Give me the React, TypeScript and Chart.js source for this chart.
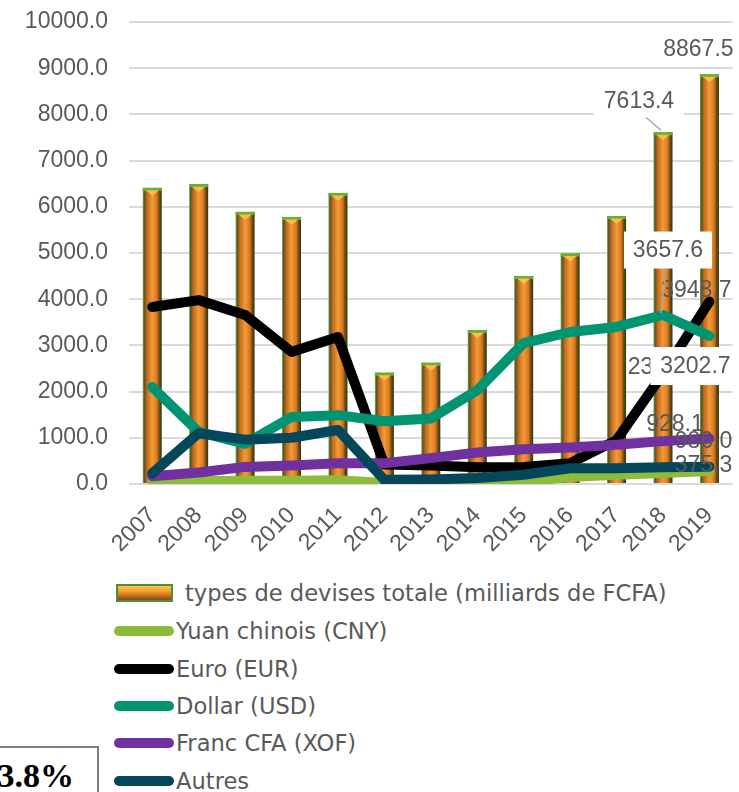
import React, { useEffect, useRef } from "react";
import { Chart, registerables } from "chart.js";

Chart.register(...registerables);

// ---------- data ----------
const years = ["2007", "2008", "2009", "2010", "2011", "2012", "2013", "2014", "2015", "2016", "2017", "2018", "2019"];
const totalValues = [6410, 6490, 5890, 5780, 6300, 2410, 2625, 3330, 4500, 4990, 5800, 7613.4, 8867.5];
const yuanValues = [60, 60, 70, 70, 80, 20, 10, 20, 60, 150, 200, 240, 280];
const euroValues = [3830, 3980, 3660, 2860, 3180, 420, 400, 360, 370, 450, 950, 2390, 3948.7];
const dollarValues = [2100, 1130, 870, 1450, 1490, 1360, 1420, 2030, 3050, 3290, 3400, 3657.6, 3202.7];
const francValues = [170, 250, 370, 400, 450, 450, 560, 680, 750, 790, 850, 928.1, 986.0];
const autresValues = [230, 1100, 960, 1000, 1170, 90, 100, 130, 200, 340, 340, 360, 375.3];

const seriesNames = [
  "types de devises totale (milliards de FCFA)",
  "Yuan chinois (CNY)",
  "Euro (EUR)",
  "Dollar (USD)",
  "Franc CFA (XOF)",
  "Autres",
];
const lineColors = ["#8dbb3c", "#000000", "#009473", "#7030a0", "#05475a"];

const yMin = 0;
const yMax = 10000;
const yStep = 1000;

const FONT = "'Liberation Sans', Arial, sans-serif";
const LEGEND_FONT = "'DejaVu Sans', sans-serif";
const TEXT = "#595959";

// label placement (styling only): dataset index, point index, offsets
const labelSpecs = [
  { ds: 0, i: 11, dx: -24, dy: -32, box: true, bw: 90, bh: 34, leader: true },
  { ds: 0, i: 12, dx: -11, dy: -26 },
  { ds: 2, i: 11, dx: 0, dy: -7 },
  { ds: 2, i: 12, dx: -13, dy: -12 },
  { ds: 3, i: 11, dx: 5, dy: -65, box: true, bw: 88, bh: 37, leader: true },
  { ds: 3, i: 12, dx: -14, dy: 30, box: true, bw: 90, bh: 38 },
  { ds: 4, i: 11, dx: 12, dy: -17 },
  { ds: 4, i: 12, dx: -6, dy: 2 },
  { ds: 5, i: 12, dx: -6, dy: -2 },
];

const barPlugin = {
  id: "bevelBars",
  afterDatasetDraw(chart: any, args: any) {
    if (args.index !== 0) return;
    const ctx = chart.ctx as CanvasRenderingContext2D;
    ctx.save();
    args.meta.data.forEach((el: any) => {
      const { x, y, base, width } = el;
      const l = x - width / 2;
      const r = x + width / 2;
      const g = ctx.createLinearGradient(l, 0, r, 0);
      g.addColorStop(0, "#8cad68");
      g.addColorStop(0.08, "#4a5a22");
      g.addColorStop(0.22, "#c4671c");
      g.addColorStop(0.5, "#f39b38");
      g.addColorStop(0.75, "#d9761f");
      g.addColorStop(0.88, "#6a4a12");
      g.addColorStop(1, "#2a3a14");
      ctx.fillStyle = g;
      ctx.fillRect(l, y, width, base - y);
      ctx.fillStyle = "#62b236";
      ctx.fillRect(l, y, width, 3);
      ctx.beginPath();
      ctx.moveTo(l + 3, y + 2.5);
      ctx.lineTo(r - 3, y + 2.5);
      ctx.lineTo(x, y + 8);
      ctx.closePath();
      ctx.fillStyle = "#f8bf48";
      ctx.fill();
    });
    ctx.restore();
  },
};

const labelPlugin = {
  id: "valueLabels",
  afterDraw(chart: any) {
    const ctx = chart.ctx as CanvasRenderingContext2D;
    ctx.save();
    ctx.font = `23px ${FONT}`;
    ctx.textAlign = "center";
    ctx.textBaseline = "middle";
    labelSpecs.forEach((s: any) => {
      const el = chart.getDatasetMeta(s.ds).data[s.i];
      const v = chart.data.datasets[s.ds].data[s.i] as number;
      const cx = el.x + s.dx;
      const cy = el.y + s.dy;
      if (s.box) {
        ctx.fillStyle = "#ffffff";
        ctx.fillRect(cx - s.bw / 2, cy - s.bh / 2, s.bw, s.bh);
      }
      if (s.leader) {
        ctx.strokeStyle = "#a6a6a6";
        ctx.lineWidth = 1.5;
        ctx.beginPath();
        ctx.moveTo(cx + (s.ds === 0 ? 7 : -2), cy + s.bh / 2);
        ctx.lineTo(el.x - 2, el.y - 2);
        ctx.stroke();
      }
      ctx.fillStyle = TEXT;
      ctx.fillText(v.toFixed(1), cx, cy + 1);
    });
    ctx.restore();
  },
};

export default function App() {
  const canvasRef = useRef<HTMLCanvasElement | null>(null);

  useEffect(() => {
    document.body.style.margin = "0";
    const canvas = canvasRef.current;
    if (!canvas) return;
    const lineSets = [yuanValues, euroValues, dollarValues, francValues, autresValues].map((d, k) => ({
      type: "line" as const,
      label: seriesNames[k + 1],
      data: d,
      borderColor: lineColors[k],
      backgroundColor: lineColors[k],
      borderWidth: 10,
      pointRadius: 0,
      borderCapStyle: "round" as const,
      borderJoinStyle: "round" as const,
      tension: 0,
      order: 5 - k,
    }));
    const chart = new Chart(canvas, {
      type: "bar",
      data: {
        labels: years,
        datasets: [
          {
            type: "bar",
            label: seriesNames[0],
            data: totalValues,
            backgroundColor: "rgba(0,0,0,0)",
            barPercentage: 0.41,
            categoryPercentage: 1,
            order: 10,
          } as any,
          ...lineSets,
        ],
      },
      options: {
        responsive: false,
        animation: false,
        layout: { padding: { top: 22, right: 2, left: 0, bottom: 0 } },
        plugins: { legend: { display: false }, tooltip: { enabled: false } },
        scales: {
          x: {
            grid: { display: false },
            border: { display: false },
            ticks: {
              color: TEXT,
              font: { family: FONT, size: 23 },
              maxRotation: 45,
              minRotation: 45,
              autoSkip: false,
              padding: 10,
            },
            afterFit: (s: any) => {
              s.height = 76;
            },
          },
          y: {
            min: yMin,
            max: yMax,
            ticks: {
              stepSize: yStep,
              callback: (v: any) => Number(v).toFixed(1),
              color: TEXT,
              font: { family: FONT, size: 23 },
              padding: 0,
            },
            grid: {
              color: "#dadada",
              lineWidth: 2,
              drawTicks: true,
              tickLength: 21,
              tickColor: "rgba(0,0,0,0)",
            },
            border: { display: false },
            afterFit: (s: any) => {
              s.width = 129;
            },
          },
        },
      },
      plugins: [barPlugin, labelPlugin],
    });
    return () => chart.destroy();
  }, []);

  const rowTops = [593, 631, 669, 706, 743, 781];

  return (
    <div style={{ position: "relative", width: 739, height: 792, overflow: "hidden", background: "#fff" }}>
      <canvas ref={canvasRef} width={739} height={560} style={{ position: "absolute", left: 0, top: 0 }} />
      {seriesNames.map((name, k) => (
        <div
          key={name}
          style={{
            position: "absolute",
            left: 114,
            top: rowTops[k] - 15,
            height: 30,
            display: "flex",
            alignItems: "center",
            font: `22.6px ${LEGEND_FONT}`,
            color: TEXT,
            whiteSpace: "nowrap",
          }}
        >
          {k === 0 ? (
            <div
              style={{
                width: 53,
                height: 14,
                marginLeft: 2,
                marginRight: 12,
                border: "2px solid #4f8f32",
                background: "linear-gradient(to bottom, #f8c453 0%, #f2a232 35%, #c86d1c 70%, #7a4a16 100%)",
              }}
            />
          ) : (
            <div
              style={{
                width: 60,
                height: 10,
                borderRadius: 5,
                marginRight: 2,
                background: lineColors[k - 1],
              }}
            />
          )}
          <span>{name}</span>
        </div>
      ))}
      <div
        style={{
          position: "absolute",
          left: -60,
          top: 746,
          width: 155,
          height: 80,
          border: "2px solid #7f7f7f",
          background: "#fff",
        }}
      />
      <div
        style={{
          position: "absolute",
          left: -120,
          top: 758,
          width: 194,
          textAlign: "right",
          font: "bold 34px 'Liberation Serif', 'Times New Roman', serif",
          lineHeight: "36px",
          color: "#000",
        }}
      >
        3.8%
      </div>
    </div>
  );
}
